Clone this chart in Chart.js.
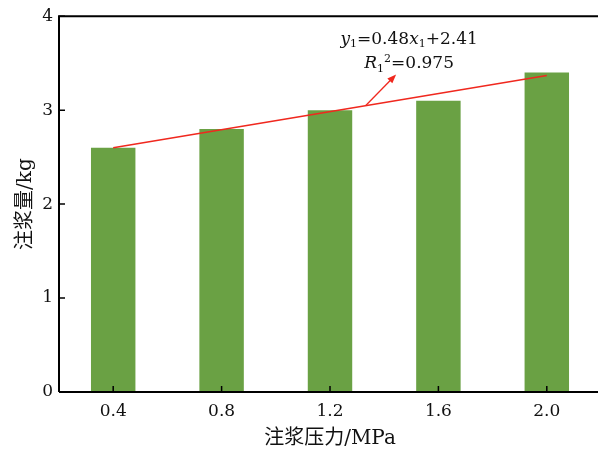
<!DOCTYPE html>
<html>
<head>
<meta charset="utf-8">
<script src="https://cdn.jsdelivr.net/npm/chart.js@4.4.1/dist/chart.umd.min.js"></script>
<style>
html, body { margin: 0; padding: 0; background: #fff; overflow: hidden; }
</style>
</head>
<body>
<canvas id="groutChart" width="610" height="449"></canvas>
<script>
// Data
const pressures = ['0.4', '0.8', '1.2', '1.6', '2.0'];   // 注浆压力/MPa
const groutAmount = [2.6, 2.8, 3.0, 3.1, 3.4];           // 注浆量/kg
const fitLine = [2.60, null, null, null, 3.37];          // fitted line y1=0.48x1+2.41
const yTicks = [0, 1, 2, 3, 4];

// Annotation anchors (category index, value)
const eqAnchor = [2.73, 3.77];
const r2Anchor = [2.73, 3.51];
const arrowFrom = [2.33, 3.05];
const arrowTo = [2.61, 3.38];

const serif = "'DejaVu Serif', 'Liberation Serif', 'Noto Sans CJK SC', serif";

// Draw a line of rich text (italic / subscript / superscript) centred on cx
function drawRich(ctx, parts, cx, cy, size) {
    const fontOf = p => {
        const s = (p.sub || p.sup) ? Math.round(size * 0.65) : size;
        return (p.italic ? 'italic ' : '') + s + 'px ' + serif;
    };
    let total = 0;
    parts.forEach(p => { ctx.font = fontOf(p); total += ctx.measureText(p.t).width; });
    let x = cx - total / 2;
    ctx.textBaseline = 'alphabetic';
    ctx.textAlign = 'left';
    parts.forEach(p => {
        ctx.font = fontOf(p);
        let dy = 0;
        if (p.sub) dy = size * 0.22;
        if (p.sup) dy = -size * 0.38;
        ctx.fillText(p.t, x, cy + size * 0.35 + dy);
        x += ctx.measureText(p.t).width;
    });
}

const frameTicks = {
    id: 'frameTicks',
    afterDraw(chart) {
        const { ctx, chartArea: a, scales: { x, y } } = chart;
        ctx.save();
        ctx.strokeStyle = '#000';
        ctx.lineWidth = 2;
        ctx.beginPath();
        ctx.moveTo(a.left, a.bottom);
        ctx.lineTo(a.left, a.top);
        ctx.lineTo(a.right, a.top);
        ctx.moveTo(a.left, a.bottom);
        ctx.lineTo(a.right, a.bottom);
        ctx.stroke();

        // inward ticks
        ctx.lineWidth = 1.5;
        ctx.beginPath();
        yTicks.forEach(v => {
            const py = y.getPixelForValue(v);
            ctx.moveTo(a.left, py);
            ctx.lineTo(a.left + 6, py);
        });
        pressures.forEach((p, i) => {
            const px = x.getPixelForValue(i);
            ctx.moveTo(px, a.bottom);
            ctx.lineTo(px, a.bottom - 6);
        });
        ctx.stroke();

        // arrow from fitted line to the equation
        const x0 = x.getPixelForValue(arrowFrom[0]), y0 = y.getPixelForValue(arrowFrom[1]);
        const x1 = x.getPixelForValue(arrowTo[0]), y1 = y.getPixelForValue(arrowTo[1]);
        const ang = Math.atan2(y1 - y0, x1 - x0);
        ctx.strokeStyle = '#f0281e';
        ctx.fillStyle = '#f0281e';
        ctx.lineWidth = 1.3;
        ctx.beginPath();
        ctx.moveTo(x0, y0);
        ctx.lineTo(x1 - 6 * Math.cos(ang), y1 - 6 * Math.sin(ang));
        ctx.stroke();
        ctx.beginPath();
        ctx.moveTo(x1, y1);
        ctx.lineTo(x1 - 9 * Math.cos(ang) + 3.5 * Math.sin(ang), y1 - 9 * Math.sin(ang) - 3.5 * Math.cos(ang));
        ctx.lineTo(x1 - 9 * Math.cos(ang) - 3.5 * Math.sin(ang), y1 - 9 * Math.sin(ang) + 3.5 * Math.cos(ang));
        ctx.closePath();
        ctx.fill();

        // equation text
        ctx.fillStyle = '#111';
        drawRich(ctx, [
            { t: 'y', italic: true }, { t: '1', sub: true }, { t: '=0.48' },
            { t: 'x', italic: true }, { t: '1', sub: true }, { t: '+2.41' }
        ], x.getPixelForValue(eqAnchor[0]), y.getPixelForValue(eqAnchor[1]), 17);
        drawRich(ctx, [
            { t: 'R', italic: true }, { t: '1', sub: true }, { t: '2', sup: true }, { t: '=0.975' }
        ], x.getPixelForValue(r2Anchor[0]), y.getPixelForValue(r2Anchor[1]), 17);
        ctx.restore();
    }
};

const ctx = document.getElementById('groutChart').getContext('2d');
new Chart(ctx, {
    type: 'bar',
    data: {
        labels: pressures,
        datasets: [{
            type: 'line',
            data: fitLine,
            borderColor: '#f0281e',
            borderWidth: 1.5,
            pointRadius: 0,
            spanGaps: true,
            fill: false,
            order: 0
        }, {
            type: 'bar',
            data: groutAmount,
            backgroundColor: 'rgb(106, 161, 68)',
            borderWidth: 0,
            categoryPercentage: 1,
            barPercentage: 0.41,
            order: 1
        }]
    },
    options: {
        responsive: false,
        animation: false,
        layout: { padding: { left: 0, right: 9, top: 16, bottom: 0 } },
        plugins: {
            legend: { display: false },
            tooltip: { enabled: false }
        },
        scales: {
            x: {
                type: 'category',
                offset: true,
                grid: { display: false, drawTicks: false },
                border: { display: false },
                ticks: {
                    color: '#111',
                    padding: 9,
                    maxRotation: 0,
                    font: { family: serif, size: 17 }
                },
                title: {
                    display: true,
                    text: '注浆压力/MPa',
                    color: '#111',
                    padding: { top: 0, bottom: 0 },
                    font: { family: serif, size: 20, lineHeight: 1 }
                },
                afterFit(scale) { scale.height = 57; }
            },
            y: {
                min: 0,
                max: 4,
                grid: { display: false, drawTicks: false },
                border: { display: false },
                ticks: {
                    stepSize: 1,
                    color: '#111',
                    padding: 6,
                    font: { family: serif, size: 17 }
                },
                title: {
                    display: true,
                    text: '注浆量/kg',
                    color: '#111',
                    padding: { top: 16, bottom: 0 },
                    font: { family: serif, size: 20, lineHeight: 1 }
                },
                afterFit(scale) { scale.width = 59; }
            }
        }
    },
    plugins: [frameTicks]
});
</script>
</body>
</html>
